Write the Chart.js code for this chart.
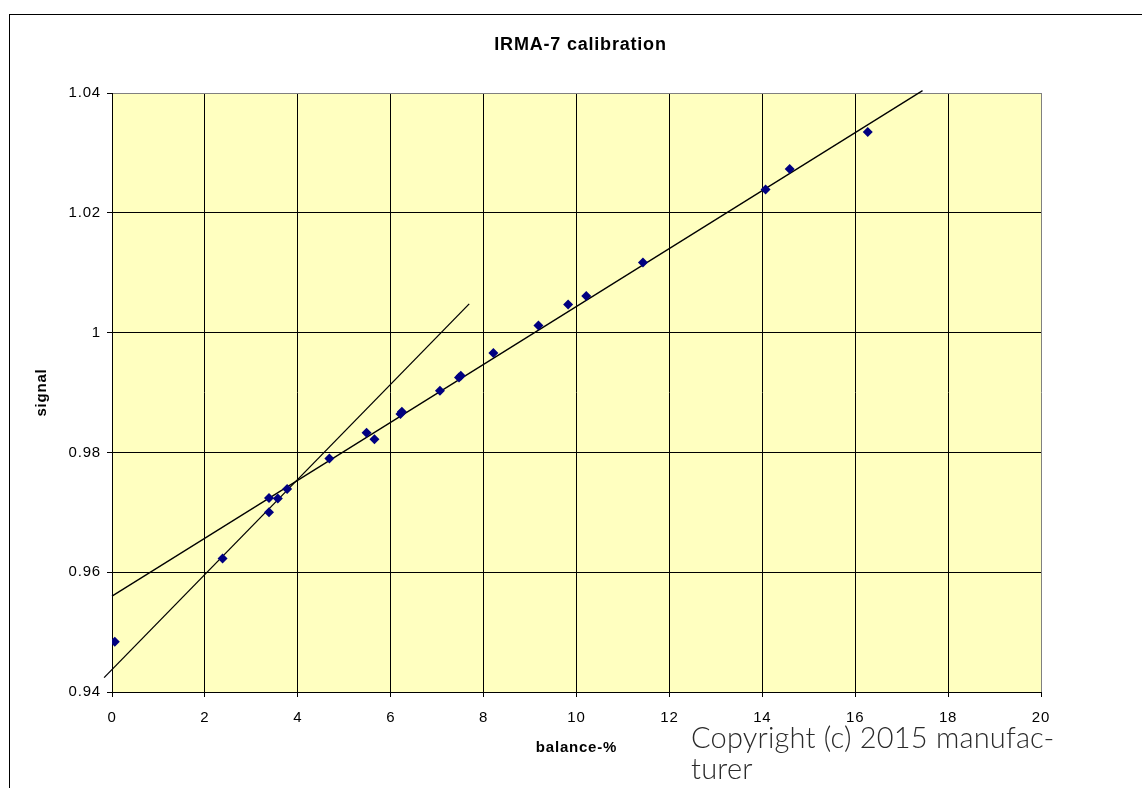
<!DOCTYPE html>
<html>
<head>
<meta charset="utf-8">
<script src="https://cdn.jsdelivr.net/npm/chart.js@4"></script>
<style>
  body { margin: 0; background: #fff; }
  #wrap { position: relative; width: 1142px; height: 788px; overflow: hidden; }
  #frame { position: absolute; left: 9px; top: 14px; width: 1200px; height: 900px; border: 1px solid #000; }
  #irma { position: absolute; left: 0; top: 0; }
  #copy { position: absolute; left: 691px; top: 721px; font-family: Lato, sans-serif; font-weight: 300;
          font-size: 29px; line-height: 31px; letter-spacing: 0.2px; color: #2a2a2a; white-space: nowrap; }
</style>
</head>
<body>
<div id="wrap">
  <div id="frame"></div>
  <canvas id="irma" width="1142" height="788"></canvas>
  <div id="copy">Copyright (c) 2015 manufac-<br>turer</div>
</div>
<script>
// --- measured calibration points (balance-% vs signal) ---
const balance = [0.06, 2.38, 3.38, 3.38, 3.57, 3.77, 4.68, 5.48, 5.65, 6.21, 6.24,
                 7.06, 7.47, 7.51, 8.21, 9.18, 9.82, 10.21, 11.43, 14.07, 14.59, 16.27];
const signal  = [0.9484, 0.9623, 0.9724, 0.9700, 0.9723, 0.9739, 0.9790, 0.9833, 0.9822, 0.9864, 0.9868,
                 0.9903, 0.9925, 0.9928, 0.9966, 1.0012, 1.0047, 1.0061, 1.0117, 1.0239, 1.0273, 1.0335];

// two straight trend lines drawn over the points (end points)
const fitAllX = [0, 17.45];
const fitAllY = [0.9560, 1.0404];
const fitLowX = [-0.17, 7.69];
const fitLowY = [0.9424, 1.0048];

const xTicks = [0, 20, 2];          // min, max, step
const yTicks = [0.94, 1.04, 0.02];

const chartTitle = 'IRMA-7 calibration';
const FONT = '"Liberation Sans", Arial, sans-serif';

// Excel draws its text a bit wider than the canvas does
const spacing = {
  id: 'spacing',
  beforeUpdate(c) { c.ctx.letterSpacing = '0.8px'; },
  beforeDraw(c) { c.ctx.letterSpacing = '0.8px'; }
};

// pale yellow plot area + title centred over the plot
const plotBg = {
  id: 'plotBg',
  beforeDraw(c) {
    const a = c.chartArea, ctx = c.ctx;
    ctx.save();
    ctx.fillStyle = '#FFFFC0';
    ctx.fillRect(a.left, a.top, a.right - a.left, a.bottom - a.top);
    ctx.restore();
  },
  afterDraw(c) {
    const a = c.chartArea, ctx = c.ctx;
    ctx.save();
    ctx.fillStyle = '#000';
    ctx.font = 'bold 18px ' + FONT;
    ctx.textAlign = 'center';
    ctx.textBaseline = 'middle';
    ctx.fillText(chartTitle, (a.left + a.right) / 2 + 4, 45);
    ctx.restore();
  }
};

const toPts = (xs, ys) => xs.map((x, i) => ({ x: x, y: ys[i] }));

new Chart(document.getElementById('irma'), {
  type: 'scatter',
  data: {
    datasets: [
      {
        label: 'signal',
        data: toPts(balance, signal),
        pointStyle: 'rectRot',
        pointRadius: 5,
        backgroundColor: '#000080',
        borderColor: '#000080',
        borderWidth: 0,
        order: 0
      },
      {
        type: 'line',
        data: toPts(fitAllX, fitAllY),
        borderColor: '#000',
        borderWidth: 1.3,
        pointRadius: 0,
        clip: false,
        order: 1
      },
      {
        type: 'line',
        data: toPts(fitLowX, fitLowY),
        borderColor: '#000',
        borderWidth: 1.3,
        pointRadius: 0,
        clip: false,
        order: 1
      }
    ]
  },
  options: {
    responsive: false,
    animation: false,
    layout: { padding: { left: 29, right: 101, top: 93, bottom: 27 } },
    plugins: {
      legend: { display: false },
      tooltip: { enabled: false },
      title: { display: false }
    },
    scales: {
      x: {
        type: 'linear',
        min: xTicks[0], max: xTicks[1],
        ticks: { stepSize: xTicks[2], color: '#000', padding: 12, font: { family: FONT, size: 15 } },
        grid: {
          color: c => c.tick && c.tick.value === xTicks[1] ? '#808080' : '#000',
          tickColor: '#000', tickLength: 5, lineWidth: 1
        },
        border: { color: '#000', width: 1 },
        title: { display: true, text: 'balance-%', color: '#000',
                 font: { family: FONT, size: 15, weight: 'bold' }, padding: { top: 4, bottom: 4 } },
        afterFit: s => { s.height = 69; }
      },
      y: {
        type: 'linear',
        min: yTicks[0], max: yTicks[1],
        ticks: {
          stepSize: yTicks[2], color: '#000', padding: 6, font: { family: FONT, size: 15 },
          callback: v => String(+v.toFixed(2))
        },
        grid: {
          color: c => c.tick && Math.abs(c.tick.value - yTicks[1]) < 1e-9 ? '#808080' : '#000',
          tickColor: '#000', tickLength: 5, lineWidth: 1
        },
        border: { color: '#000', width: 1 },
        title: { display: true, text: 'signal', color: '#000',
                 font: { family: FONT, size: 15, weight: 'bold' }, padding: { top: 4, bottom: 4 } },
        afterFit: s => { s.width = 83; }
      }
    }
  },
  plugins: [spacing, plotBg]
});
</script>
</body>
</html>
